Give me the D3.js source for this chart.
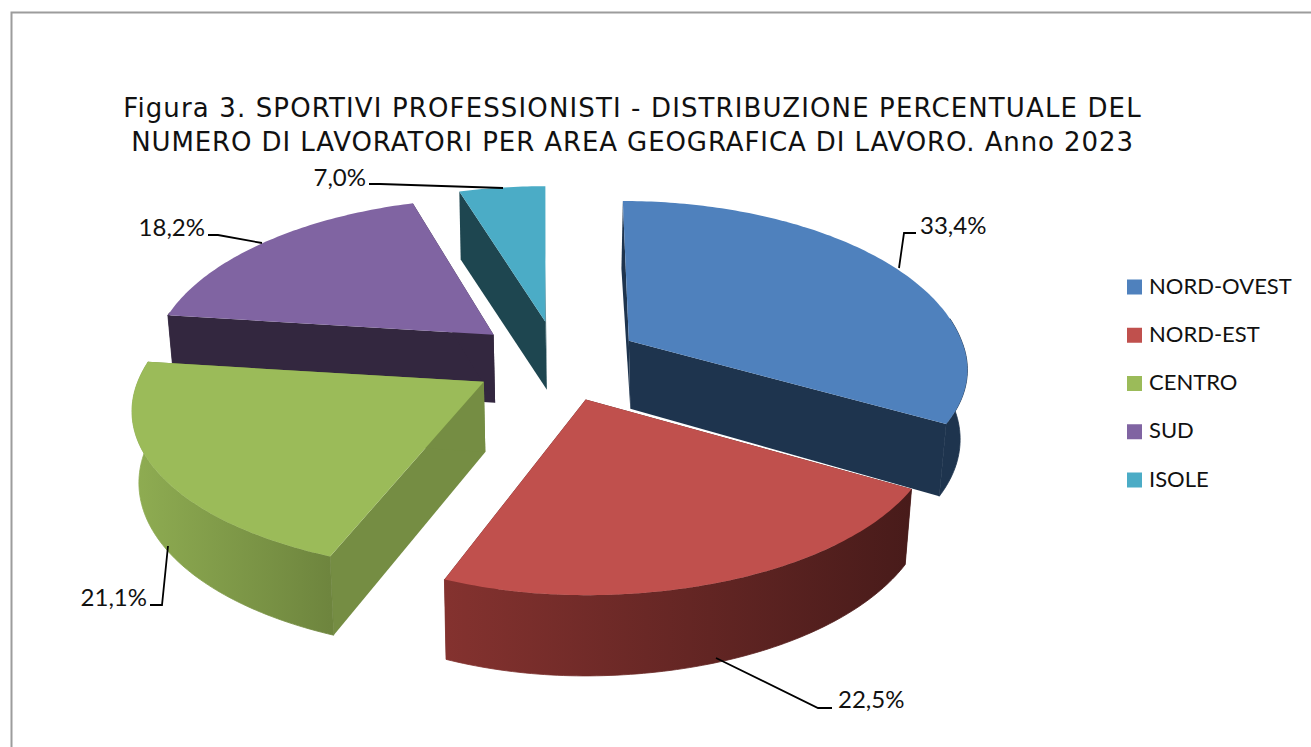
<!DOCTYPE html>
<html><head><meta charset="utf-8">
<script src="https://cdn.jsdelivr.net/npm/d3@7"></script>
<style>html,body{margin:0;padding:0;background:#fff}svg{display:block}</style>
</head><body><div id="c"></div>
<script>
// Data
const categories = ["NORD-OVEST","NORD-EST","CENTRO","SUD","ISOLE"];
const drawnShares = [33.4,22.5,21.1,18.2,4.8];   // share as drawn by the slice angles
const valueLabels = ["33,4%","22,5%","21,1%","18,2%","7,0%"];
const topColors = ["#4F81BD","#C0504D","#9BBB59","#8064A2","#4BACC6"];
const wallColors = ["#1E344E","#4F1E1C","#758D43","#33273F","#1E4650"];
const rimLeftColors = ["#1E344E","#84322F","#8FAD52","#33273F","#1E4650"];
const rimRightColors = ["#1E344E","#481B1A","#6E853E","#33273F","#1E4650"];
const titleLines = ["Figura 3. SPORTIVI PROFESSIONISTI - DISTRIBUZIONE PERCENTUALE DEL",
                    "NUMERO DI LAVORATORI PER AREA GEOGRAFICA DI LAVORO. Anno 2023"];

// Layout
const W=1311,H=747;
const C={x:556,y:361}, R=336, Ry=163, k=0.167, explode=0.25;
const drawOrder=[4,3,0,2,1];
const titleSpacing=[1.13,0.9];
// per-slice perspective fit: apex nudge, x stretch right/left of apex, y stretch behind/in front of apex, skew
const fit=[
 {nx:0,ny:0,sxR:.99, sxL:1,   syB:1,  syF:.93,skew:.043},
 {nx:2,ny:0,sxR:1.028,sxL:.98,syB:1,  syF:1,  skew:0},
 {nx:0,ny:0,sxR:1,   sxL:1.03,syB:1,  syF:.97,skew:-.03},
 {nx:2,ny:0,sxR:1,   sxL:1,   syB:.98,syF:1,  skew:-.04},
 {nx:2,ny:1,sxR:1,   sxL:1,   syB:.97,syF:1,  skew:0}];
const leaders=[
 {pts:[[899,268],[904,233],[916,233]],lx:920,ly:228,a:"start"},
 {pts:[[716,658],[818,708],[832,708]],lx:838,ly:702,a:"start"},
 {pts:[[168,546],[162,605],[150,605]],lx:147,ly:600,a:"end"},
 {pts:[[262,243],[218,235],[208,235]],lx:205,ly:230,a:"end"},
 {pts:[[503,188],[380,184],[369,184]],lx:366,ly:180,a:"end"}];

const svg=d3.select("#c").append("svg").attr("width",W).attr("height",H);
const defs=svg.append("defs");
svg.append("path").attr("d",`M11.5 ${H} V12.5 H${W}`).attr("fill","none").attr("stroke","#9c9c9c").attr("stroke-width",2);

svg.selectAll("text.title").data(titleLines).join("text").attr("class","title")
  .attr("x",632.5).attr("y",(d,i)=>117+i*34).attr("text-anchor","middle")
  .attr("font-family","'DejaVu Sans',Verdana,sans-serif").attr("font-size",26)
  .attr("letter-spacing",(d,i)=>titleSpacing[i]).attr("fill","#111")
  .text(d=>d);

const pie=d3.pie().sort(null).value(d=>d).startAngle(0).endAngle(2*Math.PI);
const arcs=pie(drawnShares);
const pathLine=d3.line();

function unit(a){return [Math.sin(a),-Math.cos(a)];}
function apex(d){const m=unit((d.startAngle+d.endAngle)/2),f=fit[d.index];
  return [C.x+explode*R*m[0]+f.nx,C.y+explode*Ry*m[1]+f.ny];}
function topPt(d,a){const [u,v]=unit(a),o=apex(d),s=1/(1-k*v),f=fit[d.index];
  const y=Ry*v*s*(v<0?f.syB:f.syF);
  const x=R*u*s*(u<0?f.sxL:f.sxR)+f.skew*y;
  return [o[0]+x,o[1]+y];}
function depthAt(y){return 68+Math.max(0,y-340)*0.05;}
function dropPt(d,a){const p=topPt(d,a);return [p[0]-(p[0]-540)*0.017,p[1]+depthAt(p[1])];}
function arcAngles(d){const n=Math.max(8,Math.ceil((d.endAngle-d.startAngle)*60));
  return d3.range(n+1).map(i=>d.startAngle+(d.endAngle-d.startAngle)*i/n);}

drawOrder.forEach(i=>{
  const d=arcs[i],g=svg.append("g").attr("class","slice-"+i),as=arcAngles(d);
  const o=apex(d),oBot=[o[0]+1.5,o[1]+depthAt(o[1])];
  // walls
  [d.startAngle,d.endAngle].forEach(a=>{
    g.append("path").attr("d",pathLine([o,topPt(d,a),dropPt(d,a),oBot])+"Z").attr("fill",wallColors[i]);
  });
  // outer rim: only the part of the arc that faces the viewer
  const tops=as.map(a=>topPt(d,a));
  const front=as.filter(a=>unit(a)[1]>-0.15);
  if(front.length>1){
    const rimTop=front.map(a=>topPt(d,a)),rimBot=front.map(a=>dropPt(d,a)).reverse();
    const xs=tops.map(p=>p[0]);
    const gid="rim"+i;
    const lg=defs.append("linearGradient").attr("id",gid).attr("gradientUnits","userSpaceOnUse")
      .attr("x1",d3.min(xs)).attr("x2",d3.max(xs)).attr("y1",0).attr("y2",0);
    lg.append("stop").attr("offset",0).attr("stop-color",rimLeftColors[i]);
    lg.append("stop").attr("offset",1).attr("stop-color",rimRightColors[i]);
    g.append("path").attr("d",pathLine(rimTop.concat(rimBot))+"Z").attr("fill",`url(#${gid})`)
      .attr("stroke",`url(#${gid})`).attr("stroke-width",0.8);
  }
  // top face
  g.append("path").attr("d",pathLine([o].concat(tops))+"Z").attr("fill",topColors[i]);
});

// Leaders & labels
svg.selectAll("path.leader").data(leaders).join("path").attr("class","leader")
  .attr("d",d=>pathLine(d.pts)).attr("fill","none").attr("stroke","#000").attr("stroke-width",1.8);
svg.selectAll("text.val").data(leaders).join("text").attr("class","val")
  .attr("x",d=>d.lx).attr("y",d=>d.ly).attr("text-anchor",d=>d.a).attr("dominant-baseline","middle")
  .attr("font-family","Lato,sans-serif").attr("font-size",24).attr("fill","#111")
  .text((d,i)=>valueLabels[i]);

// Legend
const ly=d3.scalePoint().domain(categories).range([287,480]);
const lgd=svg.selectAll("g.leg").data(categories).join("g").attr("class","leg")
  .attr("transform",d=>`translate(1127,${ly(d)})`);
lgd.append("rect").attr("x",0).attr("y",-7.5).attr("width",15).attr("height",15).attr("fill",(d,i)=>topColors[i]);
lgd.append("text").attr("x",22).attr("y",1).attr("dominant-baseline","middle")
  .attr("font-family","Lato,sans-serif").attr("font-size",22).attr("fill","#111").text(d=>d);
</script></body></html>
